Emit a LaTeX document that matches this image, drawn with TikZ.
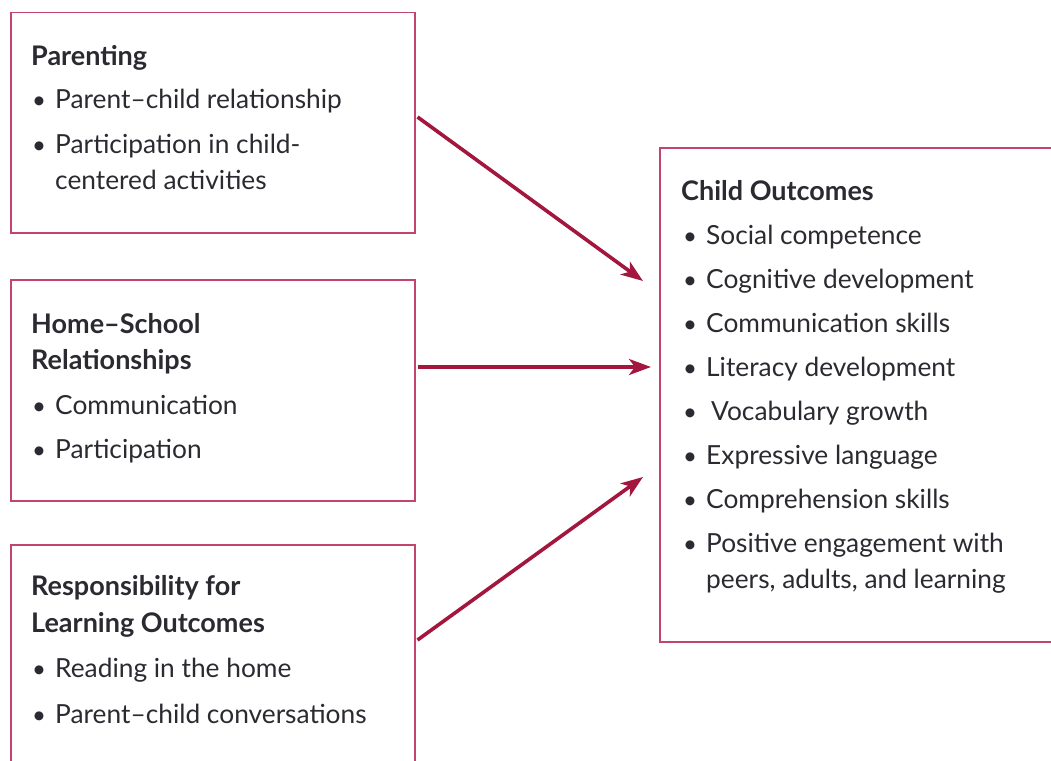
\documentclass[tikz,border=0pt]{standalone}
\usepackage{fontspec}
\setmainfont{Lato}
\usetikzlibrary{arrows.meta}
\definecolor{boxred}{HTML}{C2456B}
\definecolor{arrred}{HTML}{A3173F}
\definecolor{txtgray}{HTML}{2A2A30}
\tikzset{
  box/.style={draw=boxred, line width=1.5pt, inner sep=0pt, anchor=north west},
  ln/.style={anchor=base west, inner sep=0pt, text=txtgray, font=\fontsize{26.3}{30}\selectfont},
  hd/.style={ln, font=\fontsize{27}{30}\selectfont\bfseries},
  bul/.style={anchor=base, inner sep=0pt, text=txtgray, font=\fontsize{24}{28}\selectfont},
  arr/.style={draw=arrred, line width=3.6pt, -{Stealth[length=22pt,width=16pt,inset=6pt]}}
}
\begin{document}
\begin{tikzpicture}[x=1pt,y=-1pt]
\useasboundingbox (0,0) rectangle (1051,760);
% boxes
\node[box, minimum width=404pt, minimum height=220pt] (b1) at (10,12) {};
\node[box, minimum width=404pt, minimum height=221pt] (b2) at (10,279) {};
\node[box, minimum width=404pt, minimum height=240pt] (b3) at (10,544) {};
\node[box, minimum width=420pt, minimum height=494pt] (b4) at (659,147) {};
% box 1 text
\node[hd] (t1a) at (31,65) {Parenting};
\node[bul] (u1a) at (39,108) {•};
\node[ln] (t1b) at (55,108) {Parent–child relationship};
\node[bul] (u1b) at (39,153) {•};
\node[ln] (t1c) at (55,153) {Participation in child-};
\node[ln] (t1d) at (55,189) {centered activities};
% box 2 text
\node[hd] (t2a) at (31,333) {Home–School};
\node[hd] (t2b) at (31,369) {Relationships};
\node[bul] (u2a) at (39,414) {•};
\node[ln] (t2c) at (55,414) {Communication};
\node[bul] (u2b) at (39,458) {•};
\node[ln] (t2d) at (55,458) {Participation};
% box 3 text
\node[hd] (t3a) at (31,595) {Responsibility for};
\node[hd] (t3b) at (31,632) {Learning Outcomes};
\node[bul] (u3a) at (39,677) {•};
\node[ln] (t3c) at (55,677) {Reading in the home};
\node[bul] (u3b) at (39,723) {•};
\node[ln] (t3d) at (55,723) {Parent–child conversations};
% box 4 text
\node[hd] (t4a) at (681,200) {Child Outcomes};
\node[bul] (u4a) at (690,244) {•};
\node[ln] (t4b) at (706,244) {Social competence};
\node[bul] (u4b) at (690,288) {•};
\node[ln] (t4c) at (706,288) {Cognitive development};
\node[bul] (u4c) at (690,332) {•};
\node[ln] (t4d) at (706,332) {Communication skills};
\node[bul] (u4d) at (690,376) {•};
\node[ln] (t4e) at (706,376) {Literacy development};
\node[bul] (u4e) at (690,420) {•};
\node[ln] (t4f) at (711,420) {Vocabulary growth};
\node[bul] (u4f) at (690,464) {•};
\node[ln] (t4g) at (706,464) {Expressive language};
\node[bul] (u4g) at (690,508) {•};
\node[ln] (t4h) at (706,508) {Comprehension skills};
\node[bul] (u4h) at (690,552) {•};
\node[ln] (t4i) at (706,552) {Positive engagement with};
\node[ln] (t4j) at (706,588) {peers, adults, and learning};
% arrows
\coordinate (e1) at (643,281);
\coordinate (e2) at (651,367);
\coordinate (e3) at (643,477);
\draw[arr] ([xshift=2pt]b1.east |- 0,117) -- (e1);
\draw[arr] ([xshift=2pt]b2.east |- 0,367) -- (e2);
\draw[arr] ([xshift=2pt]b3.east |- 0,640) -- (e3);
\end{tikzpicture}
\end{document}
